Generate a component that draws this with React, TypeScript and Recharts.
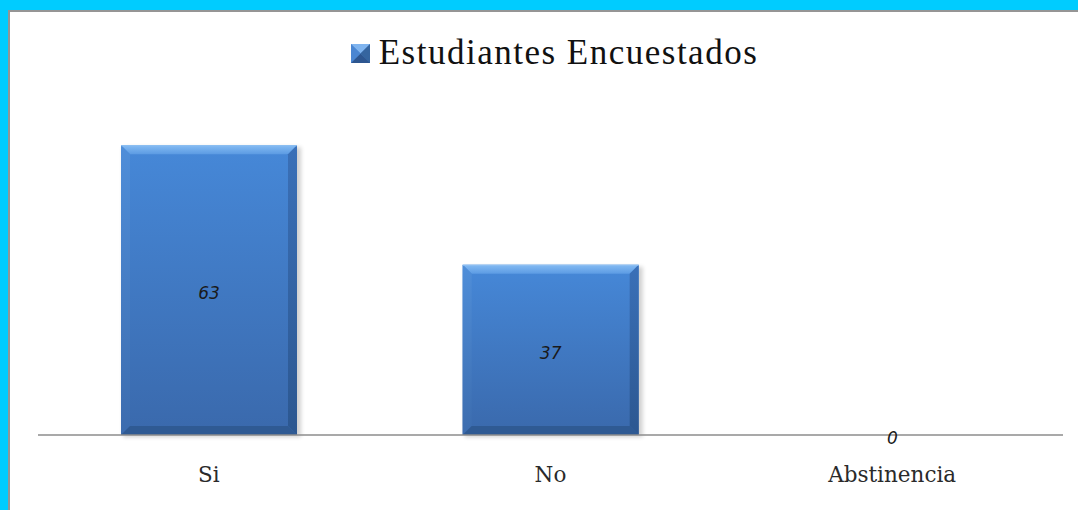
import React from "react";
import { BarChart, Bar, XAxis, YAxis, Legend, LabelList } from "recharts";

const categories = ["Si", "No", "Abstinencia"];
const values = [63, 37, 0];
const seriesName = "Estudiantes Encuestados";

const data = categories.map((c, i) => ({ name: c, value: values[i] }));

const BevelBar = (props: any) => {
  const { x, y, width, height } = props;
  if (!height || height <= 0) return null;
  const b = Math.min(9, height / 2, width / 2);
  const r = x + width;
  const bt = y + height;
  return (
    <g>
      <rect x={x + 2} y={y + 2} width={width + 2} height={height} fill="#000" opacity={0.18} filter="url(#shadowBlur)" />
      <rect x={x} y={y} width={width} height={height} fill="url(#faceGrad)" />
      <polygon points={`${x},${y} ${r},${y} ${r - b},${y + b} ${x + b},${y + b}`} fill="url(#topBevel)" />
      <polygon points={`${x},${y} ${x + b},${y + b} ${x + b},${bt - b} ${x},${bt}`} fill="url(#leftBevel)" />
      <polygon points={`${r},${y} ${r},${bt} ${r - b},${bt - b} ${r - b},${y + b}`} fill="url(#rightBevel)" />
      <polygon points={`${x},${bt} ${x + b},${bt - b} ${r - b},${bt - b} ${r},${bt}`} fill="#2f5a93" />
      <line x1={x} y1={y + 0.5} x2={r} y2={y + 0.5} stroke="#8fc0f2" strokeWidth={1} />
    </g>
  );
};

const CatTick = (props: any) => {
  const { x, y, payload } = props;
  return (
    <text x={x} y={y + 39} textAnchor="middle" fontFamily="'DejaVu Serif', serif" fontSize={21.5} fill="#2a2a2a">
      {payload.value}
    </text>
  );
};

const LegendContent = () => (
  <div style={{ height: 83, display: "flex", justifyContent: "center", alignItems: "flex-start", paddingLeft: 8 }}>
    <div style={{ display: "flex", alignItems: "center", marginTop: 4 }}>
      <svg width={19} height={19} style={{ marginRight: 9 }}>
        <defs>
          <linearGradient id="legFace" x1="0" y1="0" x2="0" y2="1">
            <stop offset="0" stopColor="#6aa3e6" />
            <stop offset="1" stopColor="#2f5f9e" />
          </linearGradient>
        </defs>
        <rect x={0} y={0} width={19} height={19} fill="url(#legFace)" />
        <polygon points="0,0 19,0 9.5,9.5" fill="#7fb4ef" />
        <polygon points="0,19 19,19 9.5,9.5" fill="#2d5690" />
        <polygon points="19,0 19,19 9.5,9.5" fill="#35659f" />
        <polygon points="0,0 0,19 9.5,9.5" fill="#4a86d2" />
      </svg>
      <span style={{ fontFamily: "'Liberation Serif', serif", fontSize: 35, letterSpacing: 1.5, color: "#111", lineHeight: "38px" }}>
        {seriesName}
      </span>
    </div>
  </div>
);

export default function App() {
  return (
    <div style={{ position: "fixed", left: 0, top: 0, width: 1078, height: 510, background: "#fff", overflow: "hidden" }}>
      <div style={{ position: "absolute", left: 0, top: 0, width: 1078, height: 10, background: "#00ccff" }} />
      <div style={{ position: "absolute", left: 0, top: 0, width: 8, height: 510, background: "#00ccff" }} />
      <div style={{ position: "absolute", left: 8, top: 10, width: 1070, height: 2, background: "#959595" }} />
      <div style={{ position: "absolute", left: 8, top: 10, width: 2, height: 500, background: "#959595" }} />
      <div style={{ position: "absolute", left: 0, top: 0 }}>
        <BarChart width={1078} height={510} data={data} margin={{ top: 30, right: 15, bottom: 35, left: 38 }}>
          <defs>
            <linearGradient id="faceGrad" x1="0" y1="0" x2="0" y2="1">
              <stop offset="0" stopColor="#4688d8" />
              <stop offset="1" stopColor="#3a69ac" />
            </linearGradient>
            <linearGradient id="topBevel" x1="0" y1="0" x2="0" y2="1">
              <stop offset="0" stopColor="#84bbf3" />
              <stop offset="1" stopColor="#5c9be3" />
            </linearGradient>
            <linearGradient id="leftBevel" x1="0" y1="0" x2="0" y2="1">
              <stop offset="0" stopColor="#4f8ed9" />
              <stop offset="1" stopColor="#3c6cae" />
            </linearGradient>
            <linearGradient id="rightBevel" x1="0" y1="0" x2="0" y2="1">
              <stop offset="0" stopColor="#3a70b8" />
              <stop offset="1" stopColor="#2c5790" />
            </linearGradient>
            <filter id="shadowBlur" x="-10%" y="-10%" width="120%" height="120%">
              <feGaussianBlur stdDeviation="2" />
            </filter>
          </defs>
          <Legend verticalAlign="top" content={<LegendContent />} />
          <XAxis
            dataKey="name"
            height={40}
            tickLine={false}
            axisLine={{ stroke: "#8c8c8c", strokeWidth: 1.5 }}
            tick={<CatTick />}
            interval={0}
          />
          <YAxis hide domain={[0, 70]} />
          <Bar dataKey="value" name={seriesName} barSize={176} shape={<BevelBar />} isAnimationActive={false}>
            <LabelList
              dataKey="value"
              position="center"
              dy={3}
              fontFamily="'DejaVu Sans', sans-serif"
              fontStyle="italic"
              fontSize={17}
              fill="#1a1a1a"
            />
          </Bar>
        </BarChart>
      </div>
    </div>
  );
}
